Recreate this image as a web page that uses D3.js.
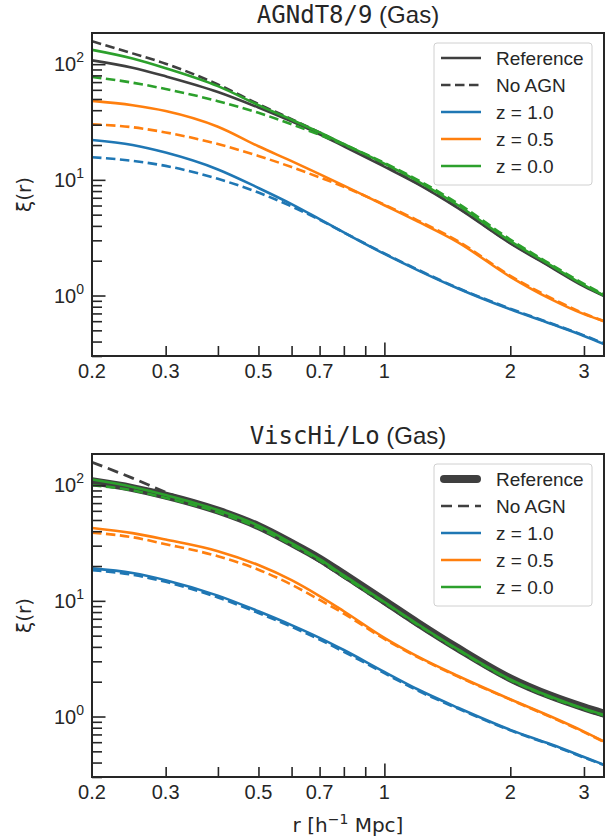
<!DOCTYPE html>
<html><head><meta charset="utf-8">
<script src="https://cdn.jsdelivr.net/npm/d3@7"></script>
<style>body{margin:0;background:#fff}svg{display:block}</style>
</head><body>
<svg id="c" width="612" height="839"></svg>
<script>
// ---------- data ----------
const rValues = [0.2, 0.25, 0.3, 0.4, 0.5, 0.6, 0.7, 0.8, 1.0, 1.2, 1.5, 2.0, 2.5, 3.0, 3.35];
const xTickLabels = ["0.2", "0.3", "0.5", "0.7", "1", "2", "3"];
const xTickValues = [0.2, 0.3, 0.5, 0.7, 1, 2, 3];
const xMinorTicks = [0.3, 0.4, 0.5, 0.6, 0.7, 0.8, 0.9, 2, 3];
const yMajorTicks = [1, 10, 100];
const yTickExponents = ["0", "1", "2"];
const legendLabels = ["Reference", "No AGN", "z = 1.0", "z = 0.5", "z = 0.0"];
const panelTitlesMono = ["AGNdT8/9", "ViscHi/Lo"];
const panelTitleSuffix = " (Gas)";

// top panel: AGNdT8/9
const topRefBlack   = [108, 93.3, 78.5, 57.5, 42.2, 32.0, 24.8, 19.5, 13.0, 9.23, 5.69, 2.82, 1.76, 1.20, 0.99];
const topNoAgnBlack = [158, 124, 101, 66.8, 45.2, 33.5, 25.7, 20.2, 13.2, 9.33, 5.75, 2.85, 1.78, 1.22, 1.00];
const topZ10 = [22.1, 20.0, 17.2, 12.3, 8.51, 6.17, 4.57, 3.51, 2.29, 1.66, 1.15, 0.759, 0.569, 0.447, 0.38];
const topZ10NoAgn = [15.7, 14.6, 13.2, 10.2, 7.76, 5.89, 4.52, 3.51, 2.31, 1.68, 1.16, 0.770, 0.575, 0.452, 0.385];
const topZ05 = [48.2, 44.2, 39.4, 28.8, 19.5, 14.5, 11.2, 8.91, 6.03, 4.37, 2.88, 1.45, 0.93, 0.69, 0.60];
const topZ05NoAgn = [30.2, 28.5, 25.7, 20.4, 16.1, 12.9, 10.5, 8.71, 6.10, 4.47, 2.95, 1.48, 0.955, 0.70, 0.60];
const topZ00 = [133, 112, 92.3, 64.6, 44.3, 33.1, 25.7, 20.4, 13.8, 9.77, 6.03, 2.95, 1.82, 1.23, 1.00];
const topZ00NoAgn = [77.6, 69.2, 61.0, 47.9, 38.0, 30.2, 24.5, 20.2, 14.0, 10.0, 6.24, 3.05, 1.86, 1.26, 1.02];

// bottom panel: ViscHi/Lo
const botRefBlack   = [108, 94.4, 81.3, 60.3, 44.2, 31.6, 23.2, 17.0, 10.0, 6.46, 3.89, 2.14, 1.51, 1.20, 1.06];
const botNoAgnBlack = [158, 115, 87.0, 58.9, 42.7, 30.2, 21.9, 16.0, 9.44, 6.10, 3.72, 2.04, 1.45, 1.15, 1.01];
const botZ10 = [19.1, 17.4, 15.1, 11.1, 8.13, 6.17, 4.79, 3.76, 2.43, 1.72, 1.19, 0.767, 0.575, 0.447, 0.383];
const botZ10NoAgn = [18.4, 16.8, 14.6, 10.7, 7.85, 5.96, 4.63, 3.63, 2.37, 1.68, 1.17, 0.759, 0.569, 0.442, 0.380];
const botZ05 = [42.7, 38.5, 33.9, 26.9, 20.4, 15.1, 11.0, 8.13, 4.79, 3.31, 2.24, 1.41, 1.00, 0.741, 0.608];
const botZ05NoAgn = [38.9, 35.5, 30.9, 24.3, 18.6, 13.8, 10.2, 7.76, 4.68, 3.27, 2.21, 1.40, 0.989, 0.733, 0.603];
const botZ00 = [112, 96.6, 82.2, 61.0, 44.7, 31.6, 22.9, 16.6, 9.77, 6.31, 3.80, 2.09, 1.48, 1.17, 1.035];
const botZ00NoAgn = [100, 90.2, 77.6, 58.2, 42.7, 30.5, 22.4, 16.2, 9.66, 6.24, 3.76, 2.07, 1.46, 1.16, 1.02];

// ---------- style ----------
const C = {blue:"#1f77b4", orange:"#ff7f0e", green:"#2ca02c", dark:"#3f3f3f", axis:"#262626"};
const SANS = "'Liberation Sans', Arial, sans-serif";
const MONO = "'DejaVu Sans Mono', monospace";
const DEJA = "'DejaVu Sans', sans-serif";

const svg = d3.select("#c");
const L = 92, R = 604;
const DASH = "9.5,4.5";
const panels = [
  {top:33, bottom:356, title:0, thickRef:false,
   series:[
     {d:topRefBlack, c:C.dark, w:2.6, dash:null},
     {d:topNoAgnBlack, c:C.dark, w:2.6, dash:DASH},
     {d:topZ10NoAgn, c:C.blue, w:2.6, dash:DASH},
     {d:topZ10, c:C.blue, w:2.6, dash:null},
     {d:topZ05NoAgn, c:C.orange, w:2.6, dash:DASH},
     {d:topZ05, c:C.orange, w:2.6, dash:null},
     {d:topZ00NoAgn, c:C.green, w:2.6, dash:DASH},
     {d:topZ00, c:C.green, w:2.6, dash:null}
   ]},
  {top:454, bottom:777, title:1, thickRef:true,
   series:[
     {d:botRefBlack, c:C.dark, w:8, dash:null, cap:"round"},
     {d:botNoAgnBlack, c:C.dark, w:2.8, dash:"11,6"},
     {d:botZ10NoAgn, c:C.blue, w:2.6, dash:DASH},
     {d:botZ10, c:C.blue, w:2.6, dash:null},
     {d:botZ05NoAgn, c:C.orange, w:2.6, dash:DASH},
     {d:botZ05, c:C.orange, w:2.6, dash:null},
     {d:botZ00NoAgn, c:C.green, w:2.6, dash:DASH},
     {d:botZ00, c:C.green, w:2.6, dash:null}
   ]}
];

const x = d3.scaleLog().domain([0.2, 3.35]).range([L, R]);

panels.forEach((p, pi) => {
  const y = d3.scaleLog().domain([0.30, 186]).range([p.bottom, p.top]);
  const g = svg.append("g");
  const clipId = "clip" + pi;
  svg.append("clipPath").attr("id", clipId).append("rect")
    .attr("x", L).attr("y", p.top).attr("width", R - L).attr("height", p.bottom - p.top);

  const line = d3.line().x((d, i) => x(rValues[i])).y(d => y(d)).curve(d3.curveMonotoneX);
  const lines = g.append("g").attr("clip-path", `url(#${clipId})`);
  p.series.forEach(s => {
    lines.append("path").attr("d", line(s.d)).attr("fill", "none")
      .attr("stroke", s.c).attr("stroke-width", s.w)
      .attr("stroke-dasharray", s.dash)
      .attr("stroke-linecap", s.cap || "butt").attr("stroke-linejoin", "round");
  });

  // axes (ticks inward)
  const xAxis = g.append("g").attr("transform", `translate(0,${p.bottom})`);
  xAxis.call(d3.axisBottom(x).tickValues([1]).tickSizeInner(-13.5).tickSizeOuter(0).tickFormat(""));
  xAxis.append("g").call(d3.axisBottom(x).tickValues(xMinorTicks).tickSizeInner(-10).tickSizeOuter(0).tickFormat(""));
  xAxis.selectAll("path.domain").remove();
  xAxis.selectAll("line").attr("stroke", C.axis).attr("stroke-width", 1.6);
  xTickValues.forEach((v, i) => {
    g.append("text").attr("x", x(v)).attr("y", p.bottom + 22)
      .attr("text-anchor", "middle").attr("font-family", SANS).attr("font-size", 20)
      .attr("fill", C.axis).text(xTickLabels[i]);
  });

  const yAxis = g.append("g").attr("transform", `translate(${L},0)`);
  yAxis.call(d3.axisLeft(y).tickValues(yMajorTicks).tickSizeInner(-13.5).tickSizeOuter(0).tickFormat(""));
  const yMinor = y.ticks().filter(v => !yMajorTicks.includes(v));
  yAxis.append("g").call(d3.axisLeft(y).tickValues(yMinor).tickSizeInner(-10).tickSizeOuter(0).tickFormat(""));
  yAxis.selectAll("path.domain").remove();
  yAxis.selectAll("line").attr("stroke", C.axis).attr("stroke-width", 1.6);
  yMajorTicks.forEach((v, i) => {
    const t = g.append("text").attr("x", L - 8).attr("y", y(v) + 7)
      .attr("text-anchor", "end").attr("font-family", SANS).attr("font-size", 20).attr("fill", C.axis);
    t.append("tspan").text("10");
    t.append("tspan").attr("dy", -9).attr("font-size", 14).text(yTickExponents[i]);
  });

  // frame
  g.append("rect").attr("x", L).attr("y", p.top).attr("width", R - L).attr("height", p.bottom - p.top)
    .attr("fill", "none").attr("stroke", C.axis).attr("stroke-width", 2);

  // title
  const tt = g.append("text").attr("x", (L + R) / 2).attr("y", p.top - 10)
    .attr("text-anchor", "middle").attr("font-size", 24).attr("fill", C.axis);
  tt.append("tspan").attr("font-family", MONO).text(panelTitlesMono[p.title]);
  tt.append("tspan").attr("font-family", SANS).text(panelTitleSuffix);

  // y label
  g.append("text").attr("transform", `translate(31,${(p.top + p.bottom) / 2}) rotate(-90)`)
    .attr("text-anchor", "middle").attr("font-family", DEJA).attr("font-size", 20)
    .attr("fill", C.axis).text("ξ(r)");

  // legend
  const lx = 434, ly = p.top + 10, lw = 158, lh = 142, rowH = 27;
  const lg = g.append("g");
  lg.append("rect").attr("x", lx).attr("y", ly).attr("width", lw).attr("height", lh)
    .attr("rx", 3).attr("fill", "#fff").attr("fill-opacity", 0.85)
    .attr("stroke", "#d0d0d0").attr("stroke-width", 1);
  const handles = [
    {c:C.dark, w:p.thickRef ? 8 : 2.6, dash:null, cap:p.thickRef ? "round" : "butt"},
    {c:C.dark, w:2.6, dash:p.thickRef ? "11,6" : DASH},
    {c:C.blue, w:2.6}, {c:C.orange, w:2.6}, {c:C.green, w:2.6}
  ];
  legendLabels.forEach((lab, i) => {
    const yy = ly + 15 + i * rowH;
    const hx0 = p.thickRef && i === 0 ? 444 : 441, hx1 = p.thickRef && i === 0 ? 477 : 481;
    lg.append("line").attr("x1", hx0).attr("x2", hx1).attr("y1", yy).attr("y2", yy)
      .attr("stroke", handles[i].c).attr("stroke-width", handles[i].w)
      .attr("stroke-dasharray", handles[i].dash || null)
      .attr("stroke-linecap", handles[i].cap || "butt");
    lg.append("text").attr("x", 496).attr("y", yy + 7).attr("font-family", SANS)
      .attr("font-size", 19).attr("fill", C.axis).text(lab);
  });
});

// x label
const xl = svg.append("text").attr("x", (L + R) / 2).attr("y", 832).attr("text-anchor", "middle")
  .attr("font-family", DEJA).attr("font-size", 20).attr("fill", C.axis);
xl.append("tspan").text("r [h");
xl.append("tspan").attr("dy", -8).attr("font-size", 14).text("−1");
xl.append("tspan").attr("dy", 8).text(" Mpc]");
</script>
</body></html>
